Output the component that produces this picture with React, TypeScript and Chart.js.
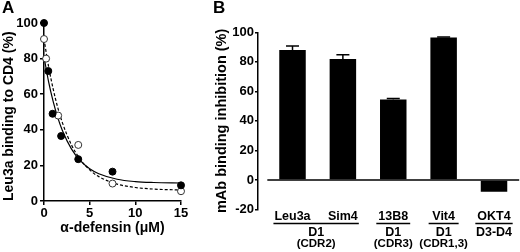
import React, { useEffect, useRef } from "react";
import { Chart, registerables } from "chart.js";

Chart.register(...registerables);

const FONT = "'Liberation Sans', Arial, Helvetica, sans-serif";

// ---------- Panel A data ----------
const doseFilled = [0, 0.47, 0.94, 1.875, 3.75, 7.5, 15];
const bindingFilled = [100, 73, 49, 36.5, 23.5, 16.5, 8.8];
const doseOpen = [0, 0.23, 1.55, 3.75, 7.5, 15];
const bindingOpen = [91, 80, 48, 31.5, 9.8, 5.5];
const fitDose = [0, 0.5, 1, 1.5, 2, 3, 4, 5, 6, 8, 10, 12, 15];
const fitFilled = [81, 67.1, 56.0, 47.0, 39.8, 29.3, 22.5, 18.1, 15.3, 12.2, 10.9, 10.4, 10.1];
const fitOpen = [91, 75.6, 63.0, 52.6, 44.2, 31.6, 23.2, 17.5, 13.7, 9.5, 7.6, 6.7, 6.2];
const xTicksA = [0, 5, 10, 15];
const yTicksA = [0, 20, 40, 60, 80, 100];

// ---------- Panel B data ----------
const mAbs = ["Leu3a", "Sim4", "13B8", "Vit4", "OKT4"];
const mAbPos = [1, 2, 3, 4, 5];
const inhibition = [88, 82, 54.5, 96.5, -8];
const inhibitionErr = [2.7, 2.8, 0.6, 0.3, 0];
const groupMembers = [[0, 1], [2], [3], [4]];
const groupDomain = ["D1", "D1", "D1", "D3-D4"];
const groupRegion = ["(CDR2)", "(CDR3)", "(CDR1,3)", ""];
const yTicksB = [-20, 0, 20, 40, 60, 80, 100];

const tickFont = { family: FONT, size: 13, weight: "bold" as const };
const titleFont = { family: FONT, size: 14, weight: "bold" as const };

const panelBPlugin = {
  id: "panelB",
  afterDatasetsDraw(chart: any) {
    const { ctx, chartArea } = chart;
    const xs = chart.scales.x;
    const ys = chart.scales.y;
    ctx.save();
    ctx.strokeStyle = "#000";
    ctx.fillStyle = "#000";
    ctx.lineWidth = 1.5;
    // x axis drawn at y = 0
    const y0 = ys.getPixelForValue(0);
    ctx.beginPath();
    ctx.moveTo(xs.getPixelForValue(0.5), y0);
    ctx.lineTo(xs.getPixelForValue(5.5), y0);
    ctx.stroke();
    // error bars (upper half)
    mAbPos.forEach((p, i) => {
      const e = inhibitionErr[i];
      if (!e) return;
      const v = inhibition[i];
      const cx = xs.getPixelForValue(p);
      const yv = ys.getPixelForValue(v);
      const ye = ys.getPixelForValue(v >= 0 ? v + e : v - e);
      ctx.beginPath();
      ctx.moveTo(cx, yv);
      ctx.lineTo(cx, ye);
      ctx.moveTo(cx - 6.5, ye);
      ctx.lineTo(cx + 6.5, ye);
      ctx.stroke();
    });
    // grouped category labels
    const base = chartArea.bottom;
    ctx.textAlign = "center";
    ctx.textBaseline = "middle";
    groupMembers.forEach((members, g) => {
      ctx.font = `bold 12.5px ${FONT}`;
      let left = Infinity;
      let right = -Infinity;
      members.forEach((m) => {
        const cx = xs.getPixelForValue(mAbPos[m]);
        const w = ctx.measureText(mAbs[m]).width;
        ctx.fillText(mAbs[m], cx, base + 7.5);
        if (members.length > 1) {
          left = Math.min(left, cx - w / 2 - 1);
          right = Math.max(right, cx + w / 2 + 1);
        } else {
          const half = Math.max(w + 4, 30) / 2;
          left = cx - half;
          right = cx + half;
        }
      });
      ctx.lineWidth = 1.5;
      ctx.beginPath();
      ctx.moveTo(left, base + 14);
      ctx.lineTo(right, base + 14);
      ctx.stroke();
      const mid = (left + right) / 2;
      ctx.fillText(groupDomain[g], mid, base + 23);
      if (groupRegion[g]) {
        ctx.font = `bold 11.5px ${FONT}`;
        ctx.fillText(groupRegion[g], mid, base + 34);
      }
    });
    ctx.restore();
  },
};

export default function App() {
  const refA = useRef<HTMLCanvasElement | null>(null);
  const refB = useRef<HTMLCanvasElement | null>(null);

  useEffect(() => {
    const chartA = new Chart(refA.current as HTMLCanvasElement, {
      type: "scatter",
      data: {
        datasets: [
          { data: doseFilled.map((x, i) => ({ x, y: bindingFilled[i] })), backgroundColor: "#000", borderColor: "#000", pointRadius: 3.5, borderWidth: 1, clip: false } as any,
          { data: doseOpen.map((x, i) => ({ x, y: bindingOpen[i] })), backgroundColor: "#fff", borderColor: "#333", pointRadius: 3.5, borderWidth: 1, clip: false } as any,
          { type: "line", data: fitDose.map((x, i) => ({ x, y: fitFilled[i] })), borderColor: "#000", borderWidth: 1.2, pointRadius: 0, cubicInterpolationMode: "monotone", fill: false, clip: false } as any,
          { type: "line", data: fitDose.map((x, i) => ({ x, y: fitOpen[i] })), borderColor: "#000", borderWidth: 1.2, borderDash: [3, 2], pointRadius: 0, cubicInterpolationMode: "monotone", fill: false, clip: false } as any,
        ],
      },
      options: {
        animation: false,
        responsive: false,
        maintainAspectRatio: false,
        layout: { padding: { left: 0, top: 23, right: 24, bottom: 0 } },
        plugins: { legend: { display: false }, tooltip: { enabled: false } },
        scales: {
          x: {
            type: "linear", min: 0, max: 15,
            afterBuildTicks: (s: any) => { s.ticks = xTicksA.map((v) => ({ value: v })); },
            afterFit: (s: any) => { s.height = 51; },
            border: { display: true, color: "#000", width: 1.5 },
            grid: { display: true, drawOnChartArea: false, drawTicks: true, tickLength: 4, color: "#000", lineWidth: 1.5 },
            ticks: { color: "#000", font: tickFont, padding: 1, maxRotation: 0 },
            title: { display: true, text: "α-defensin (μM)", color: "#000", font: titleFont, padding: { top: 0, bottom: 15 } },
          },
          y: {
            type: "linear", min: 0, max: 100,
            afterBuildTicks: (s: any) => { s.ticks = yTicksA.map((v) => ({ value: v })); },
            afterFit: (s: any) => { s.width = 44; },
            border: { display: true, color: "#000", width: 1.5 },
            grid: { display: true, drawOnChartArea: false, drawTicks: true, tickLength: 4, color: "#000", lineWidth: 1.5 },
            ticks: { color: "#000", font: tickFont, padding: 2 },
            title: { display: true, text: "Leu3a binding to CD4 (%)", align: "start", color: "#000", font: titleFont, padding: { top: 1, bottom: 0 } },
          },
        },
      } as any,
    });

    const chartB = new Chart(refB.current as HTMLCanvasElement, {
      type: "bar",
      data: {
        datasets: [
          { data: mAbPos.map((x, i) => ({ x, y: inhibition[i] })), backgroundColor: "#000", borderWidth: 0, barPercentage: 0.526, categoryPercentage: 1 } as any,
        ],
      },
      options: {
        animation: false,
        responsive: false,
        maintainAspectRatio: false,
        layout: { padding: { left: 10, top: 32.3, right: 0.5, bottom: 42.5 } },
        plugins: { legend: { display: false }, tooltip: { enabled: false } },
        scales: {
          x: { type: "linear", min: 0.315, max: 5.506, offset: false, grid: { offset: false }, display: false },
          y: {
            type: "linear", min: -20, max: 100,
            afterBuildTicks: (s: any) => { s.ticks = yTicksB.map((v) => ({ value: v })); },
            afterFit: (s: any) => { s.width = 48; },
            border: { display: true, color: "#000", width: 1.5 },
            grid: { display: true, drawOnChartArea: false, drawTicks: true, tickLength: 3, color: "#000", lineWidth: 1.5 },
            ticks: { color: "#000", font: tickFont, padding: 1 },
            title: { display: true, text: "mAb binding inhibition (%)", color: "#000", font: { family: FONT, size: 14.5, weight: "bold" }, padding: { top: 3, bottom: 0 } },
          },
        },
      } as any,
      plugins: [panelBPlugin],
    });

    return () => { chartA.destroy(); chartB.destroy(); };
  }, []);

  const letter: React.CSSProperties = {
    position: "absolute", top: -1, fontFamily: FONT, fontWeight: "bold", fontSize: 17, lineHeight: "17px", color: "#000",
  };

  return (
    <div style={{ position: "fixed", left: 0, top: 0, width: 520, height: 252, background: "#fff", overflow: "hidden" }}>
      <canvas ref={refA} width={205} height={252} style={{ position: "absolute", left: 0, top: 0 }} />
      <canvas ref={refB} width={320} height={252} style={{ position: "absolute", left: 200, top: 0 }} />
      <div style={{ ...letter, left: 2 }}>A</div>
      <div style={{ ...letter, left: 213 }}>B</div>
    </div>
  );
}
